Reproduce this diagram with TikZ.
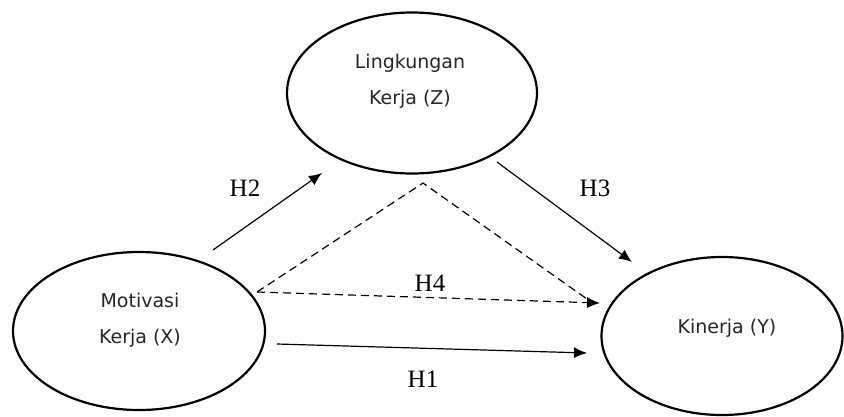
\documentclass[tikz,border=0pt]{standalone}
\usepackage{fontspec}
\setmainfont{Liberation Serif}
\newfontfamily\varfont{DejaVu Sans}
\usetikzlibrary{shapes.geometric, arrows.meta}

\tikzset{
    var/.style={draw, ellipse, line width=2.2pt, inner sep=0pt},
    vartext/.style={font=\varfont\fontsize{19}{36}\selectfont, align=center, text=black!85},
    hyp/.style={font=\fontsize{25}{30}\selectfont},
    effect/.style={-{Latex[length=13pt,width=11pt]}, line width=1.2pt},
    indirect/.style={line width=1.2pt, dash pattern=on 8pt off 5pt},
}

\begin{document}
\begin{tikzpicture}[x=1pt, y=-1pt]
        \useasboundingbox (0,0) rectangle (844,416);
        % variables
        \node[var, minimum width=250pt, minimum height=161pt] (Z) at (412,93) {};
        \node[var, minimum width=252pt, minimum height=158pt] (X) at (139,331) {};
        \node[var, minimum width=241pt, minimum height=158pt] (Y) at (722,336) {};
        \node[vartext] (Ztext) at (410,81) {Lingkungan\\Kerja (Z)};
        \node[vartext] (Xtext) at (140,320) {Motivasi\\Kerja (X)};
        \node[vartext] (Ytext) at (727,328) {Kinerja (Y)};
        % arrow ends
        \coordinate (h2a) at (213,250);
        \coordinate (h2b) at (322,173);
        \coordinate (h3a) at (497,162);
        \coordinate (h3b) at (632,262);
        \coordinate (h1a) at (277,344);
        \coordinate (h1b) at (587,353);
        \coordinate (h4l) at (257,292);
        \coordinate (h4t) at (423,183);
        \coordinate (h4r) at (587,299);
        \coordinate (h4e) at (600,303);
        \draw[effect] (h2a) -- (h2b);
        \draw[effect] (h3a) -- (h3b);
        \draw[effect] (h1a) -- (h1b);
        \draw[indirect] (h4l) -- (h4t) -- (h4r);
        \draw[indirect, -{Latex[length=13pt,width=11pt]}] (h4l) -- (h4e);
        % labels
        \node[hyp] (H2) at (245,188) {H2};
        \node[hyp] (H3) at (595,188) {H3};
        \node[hyp] (H4) at (430,283) {H4};
        \node[hyp] (H1) at (423,379) {H1};
\end{tikzpicture}
\end{document}
